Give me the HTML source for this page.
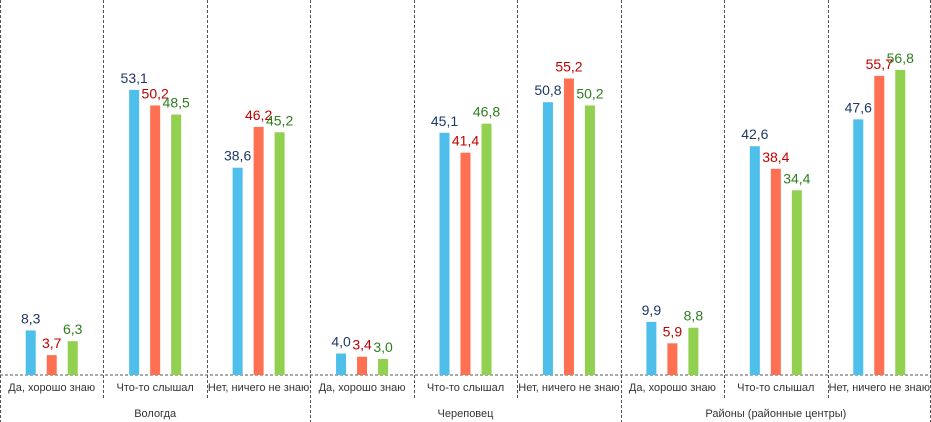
<!DOCTYPE html>
<html><head><meta charset="utf-8"><style>
body{margin:0;background:#fff;}
svg{display:block;font-family:"Liberation Sans",Calibri,sans-serif;}
</style></head><body>
<svg id="chart" width="931" height="422"></svg>
<script>
const groups=["Вологда","Череповец","Районы (районные центры)"];
const categories=["Да, хорошо знаю","Что-то слышал","Нет, ничего не знаю","Да, хорошо знаю","Что-то слышал","Нет, ничего не знаю","Да, хорошо знаю","Что-то слышал","Нет, ничего не знаю"];
const series1=[8.3,53.1,38.6,4.0,45.1,50.8,9.9,42.6,47.6];
const series2=[3.7,50.2,46.2,3.4,41.4,55.2,5.9,38.4,55.7];
const series3=[6.3,48.5,45.2,3.0,46.8,50.2,8.8,34.4,56.8];
const allSeries=[series1,series2,series3];
const barColors=["#4dbfea","#ff7052","#92d050"];
const labelColors=["#1f3864","#c00000","#2e7d1f"];
const NS="http://www.w3.org/2000/svg";
const svg=document.getElementById('chart');
const base=375, scale=5.37, catW=931/9;
const y=v=>base-v*scale;
const xc=i=>catW*i+catW/2;
function mk(t,a){const e=document.createElementNS(NS,t);for(const k in a)e.setAttribute(k,a[k]);svg.appendChild(e);return e;}
let ax=mk('line',{x1:0,y1:base,x2:931,y2:base,stroke:'#555','stroke-dasharray':'3,2'});


for(let i=0;i<=9;i++){
  const major=i%3===0;
  const x=i===9?930.5:(i===0?0.5:Math.round(catW*i)+0.5);
  const l=mk('line',{x1:x,y1:0,x2:x,y2:major?422:398,stroke:'#555','stroke-dasharray':'3,2'});
  
  
}
allSeries.forEach((s,si)=>{
  s.forEach((v,i)=>{
    const cx=xc(i)+(si-1)*21;
    const r=mk('rect',{x:cx-5,y:y(v),width:10,height:base-y(v),fill:barColors[si]});
    
    
    const t=mk('text',{x:cx,y:y(v)-7,'text-anchor':'middle','font-size':'14',fill:labelColors[si]});
    t.textContent=v.toFixed(1).replace('.',',');
    
    
  });
});
categories.forEach((c,i)=>{
  const t=mk('text',{x:xc(i),y:391,'text-anchor':'middle','font-size':'11',fill:'#333'});
  t.textContent=c;
  
  
});
groups.forEach((g,i)=>{
  const t=mk('text',{x:catW*3*i+catW*1.5,y:417,'text-anchor':'middle','font-size':'11',fill:'#333'});
  t.textContent=g;
  
  
});
</script>
</body></html>
